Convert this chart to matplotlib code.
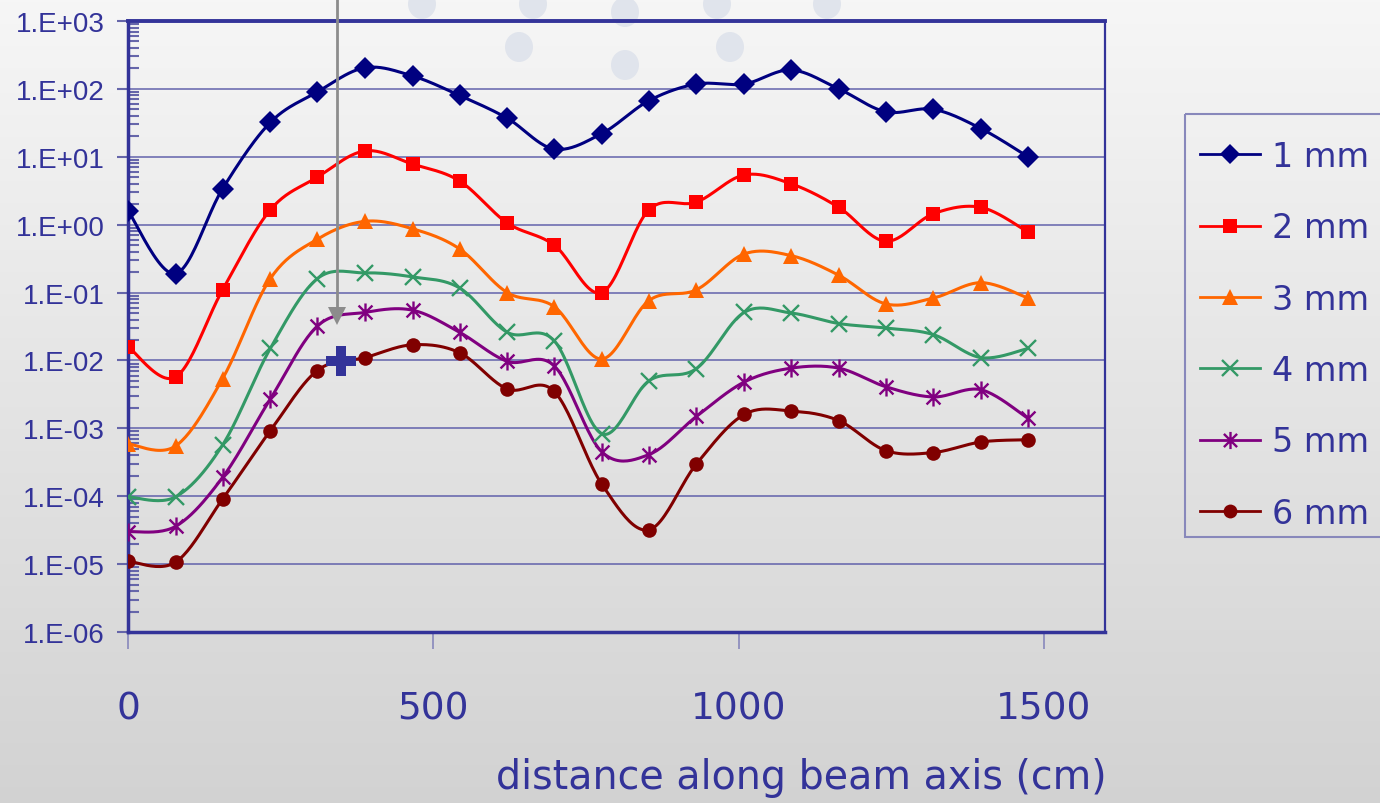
import numpy as np
import matplotlib
matplotlib.use("Agg")
import matplotlib.pyplot as plt
from matplotlib.path import Path
from matplotlib.patches import Ellipse, Rectangle
from matplotlib.ticker import LogLocator, FixedLocator, FuncFormatter, NullFormatter

# ---------------- data ----------------
distance = [0, 78, 155, 233, 310, 388, 466, 543, 621, 698,
            776, 853, 931, 1009, 1086, 1164, 1241, 1319, 1397, 1474]
series_labels = ["1 mm", "2 mm", "3 mm", "4 mm", "5 mm", "6 mm"]
s1mm = [1.6, 0.19, 3.4, 32, 90, 205, 155, 80, 37, 13,
        22, 67, 118, 118, 190, 100, 46, 50, 26, 10]
s2mm = [0.016, 0.0057, 0.11, 1.65, 5.0, 12.2, 7.8, 4.4, 1.06, 0.50,
        0.10, 1.65, 2.15, 5.4, 4.0, 1.8, 0.57, 1.45, 1.8, 0.78]
s3mm = [0.00059, 0.00055, 0.0054, 0.16, 0.61, 1.12, 0.87, 0.44, 0.10, 0.062,
        0.0105, 0.076, 0.11, 0.37, 0.35, 0.18, 0.068, 0.083, 0.14, 0.083]
s4mm = [9.8e-5, 9.8e-5, 5.7e-4, 0.015, 0.16, 0.195, 0.17, 0.117, 0.026, 0.0195,
        8.3e-4, 0.005, 0.0076, 0.051, 0.050, 0.035, 0.030, 0.024, 0.011, 0.015]
s5mm = [3.0e-5, 3.6e-5, 1.9e-4, 2.7e-3, 0.032, 0.051, 0.055, 0.026, 0.0097, 0.0083,
        4.5e-4, 4.1e-4, 1.5e-3, 4.8e-3, 0.0077, 0.0077, 4.1e-3, 2.9e-3, 3.7e-3, 1.4e-3]
s6mm = [1.1e-5, 1.07e-5, 9.1e-5, 9.2e-4, 0.0071, 0.011, 0.017, 0.013, 3.8e-3, 3.5e-3,
        1.5e-4, 3.2e-5, 3.0e-4, 1.6e-3, 1.8e-3, 1.3e-3, 4.7e-4, 4.4e-4, 6.3e-4, 6.8e-4]
all_series = [s1mm, s2mm, s3mm, s4mm, s5mm, s6mm]

ytick_values = [1e-6, 1e-5, 1e-4, 1e-3, 1e-2, 1e-1, 1e0, 1e1, 1e2, 1e3]
ytick_labels = ["1.E-06", "1.E-05", "1.E-04", "1.E-03", "1.E-02",
                "1.E-01", "1.E+00", "1.E+01", "1.E+02", "1.E+03"]
xtick_values = [0, 500, 1000, 1500]
xlabel_text = "distance along beam axis (cm)"

# annotation marks (slide cursor and cross)
cursor_x, cursor_y = 342, 0.045
cross_x, cross_y = 349, 0.0097

# ---------------- styles ----------------
colors = ["#000080", "#FF0000", "#FF6600", "#339966", "#800080", "#800000"]
star_path = Path([(-1, -1), (1, 1), (-1, 1), (1, -1), (0, -1.3), (0, 1.3)],
                 [Path.MOVETO, Path.LINETO, Path.MOVETO, Path.LINETO, Path.MOVETO, Path.LINETO])
markers = ["D", "s", "^", "x", star_path, "o"]
msizes = [11, 10.5, 11.5, 11.5, 13, 10.5]
mews = [0, 0, 0, 1.7, 1.7, 0]
navy_text = "#333399"

W, H, DPI = 1380, 804, 100
fig = plt.figure(figsize=(W / DPI, H / DPI), dpi=DPI)

# background gradient + decorative circles
bg = fig.add_axes([0, 0, 1, 1], zorder=0)
grad = np.linspace(0, 1, 256).reshape(-1, 1)
top_c = np.array([0.965, 0.965, 0.965])
bot_c = np.array([0.825, 0.825, 0.825])
img = top_c[None, None, :] * (1 - grad[:, :, None]) + bot_c[None, None, :] * grad[:, :, None]
bg.imshow(img, extent=[0, W, H, 0], aspect="auto")
bg.set_xlim(0, W)
bg.set_ylim(H, 0)
bg.axis("off")
for (cx, cy) in [(422, 5), (533, 5), (625, 13), (717, 5), (827, 5),
                 (519, 48), (625, 66), (730, 48)]:
    bg.add_patch(Ellipse((cx, cy), 28, 30, color="#e0e4ec", lw=0))
# legend frame (extends beyond the right edge as in the slide)
bg.add_patch(Rectangle((1185, 115), 240, 423, fill=False, edgecolor="#8888bb", lw=1.5))

ax = fig.add_axes([128 / W, 1 - 633 / H, (1105 - 128) / W, (633 - 22) / H], zorder=1)
ax.patch.set_alpha(0)
ax.set_yscale("log")
ax.set_xlim(0, 1600)
ax.set_ylim(1e-6, 1e3)


def smooth_curve(xs, ys, n=24):
    xs = np.asarray(xs, float)
    ly = np.log10(np.asarray(ys, float))
    P = np.column_stack([xs, ly])
    Pext = np.vstack([P[0], P, P[-1]])
    out = []
    for i in range(len(P) - 1):
        p0, p1, p2, p3 = Pext[i], Pext[i + 1], Pext[i + 2], Pext[i + 3]
        c1 = p1 + (p2 - p0) / 6.0
        c2 = p2 - (p3 - p1) / 6.0
        t = np.linspace(0, 1, n, endpoint=(i == len(P) - 2))[:, None]
        seg = ((1 - t) ** 3) * p1 + 3 * ((1 - t) ** 2) * t * c1 + 3 * (1 - t) * t ** 2 * c2 + t ** 3 * p2
        out.append(seg)
    out = np.vstack(out)
    return out[:, 0], 10 ** out[:, 1]


# grid
for yv in ytick_values[1:-1]:
    ax.axhline(yv, color="#5a5aa8", lw=1.3, alpha=0.8, zorder=1)

handles = []
for vals, lab, col, mk, ms, mew in zip(all_series, series_labels, colors, markers, msizes, mews):
    sx, sy = smooth_curve(distance, vals)
    ax.plot(sx, sy, color=col, lw=2.2, zorder=3, solid_capstyle="round")
    ax.plot(distance, vals, linestyle="none", marker=mk, ms=ms, color=col,
            mec=col, mew=mew, zorder=4)
    h, = ax.plot([], [], color=col, lw=2.0, marker=mk, ms=ms * 0.95, mec=col, mew=mew)
    handles.append(h)

# annotations (cursor arrow and cross)
ax.plot([cursor_x, cursor_x], [cursor_y * 1.15, 3000], color="#8c8c8c", lw=2.0,
        clip_on=False, zorder=5)
ax.plot([cursor_x], [cursor_y], marker="v", ms=13, color="#8c8c8c", mew=0,
        clip_on=False, zorder=5)
ax.plot([cross_x], [cross_y], marker="P", ms=21, color=navy_text, mew=0, zorder=6)

# spines
for side, lw in [("left", 2.5), ("top", 2.8), ("right", 1.6), ("bottom", 2.5)]:
    ax.spines[side].set_color(navy_text)
    ax.spines[side].set_linewidth(lw)

# y ticks
ax.yaxis.set_major_locator(FixedLocator(ytick_values))
ax.yaxis.set_major_formatter(FuncFormatter(
    lambda v, p: ytick_labels[min(range(len(ytick_values)),
                                  key=lambda i: abs(np.log10(ytick_values[i]) - np.log10(v)))]))
ax.yaxis.set_minor_locator(LogLocator(base=10, subs=np.arange(2, 10)))
ax.yaxis.set_minor_formatter(NullFormatter())
ax.tick_params(axis="y", which="major", direction="out", length=8, width=1.5,
               color="#6666aa", labelsize=20, labelcolor=navy_text, pad=9)
ax.tick_params(axis="y", which="minor", direction="in", length=8, width=1.5,
               color="#6666aa")
for t in ax.get_yticklabels():
    t.set_fontfamily("Liberation Sans")

# x ticks
ax.set_xticks(xtick_values)
ax.xaxis.set_minor_locator(FixedLocator([]))
ax.tick_params(axis="x", which="major", direction="out", length=12, width=1.2,
               color="#8888bb", labelsize=27, labelcolor=navy_text, pad=30)

fig.text(1107 / W, 1 - 778 / H, xlabel_text, ha="right", va="center",
         fontsize=28.5, color=navy_text)

leg = ax.legend(handles, series_labels, loc="upper left",
                bbox_to_anchor=(1200 / W, 1 - 141 / H), bbox_transform=fig.transFigure,
                fontsize=24, frameon=False, handlelength=1.8,
                handletextpad=0.36, labelspacing=1.15, borderpad=0, borderaxespad=0)
for t in leg.get_texts():
    t.set_color(navy_text)

fig.savefig("out.png", dpi=DPI)
